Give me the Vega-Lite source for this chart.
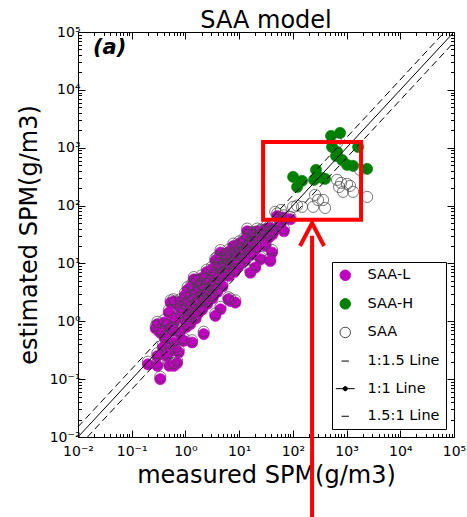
{
 "$schema": "https://vega.github.io/schema/vega-lite/v6.json",
 "width": 376, "height": 405,
 "autosize": "none",
 "padding": {"left": 78, "top": 32, "right": 13, "bottom": 80},
 "title": {"text": "SAA model", "fontSize": 24, "font": "DejaVu Sans", "fontWeight": "normal", "color": "black", "offset": -8, "anchor": "middle"},
 "datasets": {
  "pts": [
   {"x":0.34,"SAA-L":0.10,"SAA":0.11},{"x":0.20,"SAA-L":0.18,"SAA":0.2},{"x":0.30,"SAA-L":0.17,"SAA":0.19},{"x":0.70,"SAA-L":0.19,"SAA":0.21},{"x":0.61,"SAA-L":0.17,"SAA":0.19},
   {"x":0.53,"SAA-L":0.31,"SAA":0.34},{"x":0.75,"SAA-L":0.29,"SAA":0.32},{"x":0.42,"SAA-L":0.49,"SAA":0.54},{"x":0.61,"SAA-L":0.43,"SAA":0.47},{"x":0.93,"SAA-L":0.46,"SAA":0.51},
   {"x":1.33,"SAA-L":0.43,"SAA":0.47},{"x":0.37,"SAA-L":0.60,"SAA":0.66},{"x":0.56,"SAA-L":0.68,"SAA":0.75},{"x":0.46,"SAA-L":0.78,"SAA":0.86},{"x":0.30,"SAA-L":0.89,"SAA":0.98},
   {"x":0.49,"SAA-L":1.41,"SAA":1.55},{"x":2.19,"SAA-L":0.60,"SAA":0.66},{"x":0.53,"SAA-L":2.1,"SAA":2.3},{"x":3.6,"SAA-L":1.24,"SAA":1.36},{"x":4.5,"SAA-L":1.61,"SAA":1.77},
   {"x":6.9,"SAA-L":2.24,"SAA":2.46},{"x":8.5,"SAA-L":2.1,"SAA":2.3},{"x":1.65,"SAA-L":4.7,"SAA":5.2},{"x":1.43,"SAA-L":5.3,"SAA":5.8},{"x":3.9,"SAA-L":11.8,"SAA":13},
   {"x":5.6,"SAA-L":13.4,"SAA":14.7},{"x":14.1,"SAA-L":36,"SAA":40},{"x":21.6,"SAA-L":36,"SAA":40},{"x":35.6,"SAA-L":28,"SAA":31},{"x":41,"SAA-L":15.4,"SAA":17},
   {"x":38,"SAA-L":11,"SAA":12.1},{"x":25,"SAA-L":11.8,"SAA":13},{"x":31,"SAA-L":20,"SAA":22},{"x":4.5,"SAA-L":15.4,"SAA":17},{"x":3.6,"SAA-L":11,"SAA":12.1},
   {"x":6.4,"SAA-L":6.1,"SAA":6.7},{"x":16.2,"SAA-L":6.9,"SAA":7.6},{"x":20,"SAA-L":8.5,"SAA":9.4},{"x":41,"SAA-L":34,"SAA":37},{"x":51,"SAA-L":41,"SAA":45},
   {"x":51,"SAA-L":66,"SAA":73},{"x":68,"SAA-L":62,"SAA":68},{"x":90,"SAA-L":58,"SAA":64},{"x":59,"SAA-L":47,"SAA":52},{"x":38,"SAA-L":41,"SAA":45},
   {"x":25,"SAA-L":34,"SAA":37},{"x":19,"SAA-L":32,"SAA":35},{"x":42,"SAA-L":32,"SAA":35},{"x":68,"SAA-L":36,"SAA":40},{"x":0.6,"SAA-L":2.2,"SAA":2.4},
   {"x":6.3,"SAA-L":2.4,"SAA":2.6},{"x":0.30,"SAA-L":0.25,"SAA":0.28},{"x":0.45,"SAA-L":0.25,"SAA":0.28},{"x":0.5,"SAA-L":0.17,"SAA":0.19},{"x":0.65,"SAA-L":0.33,"SAA":0.36},
   {"x":0.38,"SAA-L":0.35,"SAA":0.39},{"x":0.28,"SAA-L":0.75,"SAA":0.83},{"x":0.33,"SAA-L":0.65,"SAA":0.72},{"x":0.4,"SAA-L":0.95,"SAA":1.05},
   {"x":0.63,"SAA-L":1.0,"SAA":1.1},{"x":0.65,"SAA-L":2.0,"SAA":2.2},{"x":0.62,"SAA-L":0.7,"SAA":0.77},
   {"x":0.79,"SAA-L":1.26,"SAA":1.39},{"x":0.8,"SAA-L":2.2,"SAA":2.4},{"x":0.78,"SAA-L":0.63,"SAA":0.69},{"x":0.82,"SAA-L":1.6,"SAA":1.76},
   {"x":1.0,"SAA-L":1.0,"SAA":1.1},{"x":1.02,"SAA-L":1.8,"SAA":2.0},{"x":0.98,"SAA-L":2.8,"SAA":3.1},{"x":1.05,"SAA-L":0.8,"SAA":0.88},{"x":0.97,"SAA-L":1.4,"SAA":1.54},
   {"x":1.12,"SAA-L":2.0,"SAA":2.2},{"x":1.1,"SAA-L":3.5,"SAA":3.9},{"x":1.15,"SAA-L":1.12,"SAA":1.23},
   {"x":1.26,"SAA-L":1.6,"SAA":1.76},{"x":1.28,"SAA-L":2.5,"SAA":2.75},{"x":1.24,"SAA-L":0.9,"SAA":0.99},{"x":1.3,"SAA-L":4.0,"SAA":4.4},
   {"x":1.41,"SAA-L":1.26,"SAA":1.39},{"x":1.45,"SAA-L":2.2,"SAA":2.4},{"x":1.4,"SAA-L":3.2,"SAA":3.5},
   {"x":1.58,"SAA-L":1.8,"SAA":2.0},{"x":1.6,"SAA-L":2.8,"SAA":3.1},{"x":1.55,"SAA-L":1.12,"SAA":1.23},{"x":1.62,"SAA-L":4.5,"SAA":5.0},
   {"x":1.78,"SAA-L":2.0,"SAA":2.2},{"x":1.8,"SAA-L":3.5,"SAA":3.9},{"x":1.75,"SAA-L":1.4,"SAA":1.54},
   {"x":2.0,"SAA-L":2.5,"SAA":2.75},{"x":2.05,"SAA-L":1.6,"SAA":1.76},{"x":1.95,"SAA-L":4.0,"SAA":4.4},{"x":2.0,"SAA-L":5.6,"SAA":6.2},
   {"x":2.24,"SAA-L":2.2,"SAA":2.4},{"x":2.2,"SAA-L":3.2,"SAA":3.5},{"x":2.3,"SAA-L":5.0,"SAA":5.5},
   {"x":2.5,"SAA-L":2.8,"SAA":3.1},{"x":2.55,"SAA-L":2.0,"SAA":2.2},{"x":2.45,"SAA-L":4.0,"SAA":4.4},{"x":2.5,"SAA-L":7.1,"SAA":7.8},
   {"x":2.8,"SAA-L":3.2,"SAA":3.5},{"x":2.85,"SAA-L":4.5,"SAA":5.0},{"x":2.75,"SAA-L":2.5,"SAA":2.75},
   {"x":3.16,"SAA-L":3.5,"SAA":3.9},{"x":3.2,"SAA-L":5.6,"SAA":6.2},{"x":3.1,"SAA-L":7.9,"SAA":8.7},{"x":3.2,"SAA-L":2.5,"SAA":2.75},
   {"x":3.55,"SAA-L":4.0,"SAA":4.4},{"x":3.5,"SAA-L":6.3,"SAA":6.9},
   {"x":4.0,"SAA-L":5.0,"SAA":5.5},{"x":4.1,"SAA-L":8.9,"SAA":9.8},{"x":3.9,"SAA-L":3.2,"SAA":3.5},
   {"x":4.5,"SAA-L":5.6,"SAA":6.2},{"x":4.4,"SAA-L":7.9,"SAA":8.7},{"x":4.6,"SAA-L":11.2,"SAA":12.3},
   {"x":5.0,"SAA-L":6.3,"SAA":6.9},{"x":5.1,"SAA-L":10,"SAA":11},{"x":4.9,"SAA-L":4.0,"SAA":4.4},
   {"x":5.6,"SAA-L":7.9,"SAA":8.7},{"x":5.7,"SAA-L":12.6,"SAA":13.9},{"x":5.5,"SAA-L":8.9,"SAA":9.8},
   {"x":6.3,"SAA-L":7.1,"SAA":7.8},{"x":6.2,"SAA-L":11.2,"SAA":12.3},{"x":6.4,"SAA-L":15.8,"SAA":17.4},
   {"x":7.1,"SAA-L":8.9,"SAA":9.8},{"x":7.0,"SAA-L":12.6,"SAA":13.9},
   {"x":7.9,"SAA-L":10,"SAA":11},{"x":8.0,"SAA-L":14,"SAA":15.4},{"x":7.8,"SAA-L":20,"SAA":22},{"x":8.1,"SAA-L":7.1,"SAA":7.8},
   {"x":8.9,"SAA-L":11.2,"SAA":12.3},{"x":9.0,"SAA-L":17.8,"SAA":19.6},
   {"x":10,"SAA-L":12.6,"SAA":13.9},{"x":10.2,"SAA-L":15.8,"SAA":17.4},{"x":9.8,"SAA-L":8.9,"SAA":9.8},{"x":10,"SAA-L":22,"SAA":24},
   {"x":11.2,"SAA-L":14,"SAA":15.4},{"x":11.4,"SAA-L":20,"SAA":22},
   {"x":12.6,"SAA-L":15.8,"SAA":17.4},{"x":12.4,"SAA-L":25,"SAA":27.5},{"x":12.8,"SAA-L":11.2,"SAA":12.3},
   {"x":14.1,"SAA-L":17.8,"SAA":19.6},{"x":14.3,"SAA-L":28,"SAA":31},
   {"x":15.8,"SAA-L":20,"SAA":22},{"x":16,"SAA-L":14,"SAA":15.4},{"x":15.6,"SAA-L":32,"SAA":35},
   {"x":17.8,"SAA-L":22,"SAA":24},{"x":18,"SAA-L":28,"SAA":31},
   {"x":20,"SAA-L":25,"SAA":27.5},{"x":20.5,"SAA-L":17.8,"SAA":19.6},
   {"x":25,"SAA-L":28,"SAA":31},{"x":25.5,"SAA-L":35,"SAA":38.5},
   {"x":31.6,"SAA-L":32,"SAA":35},{"x":32,"SAA-L":40,"SAA":44},
   {"x":101,"SAA-H":313},{"x":148,"SAA-H":267},{"x":120,"SAA-H":210},{"x":270,"SAA-H":414},{"x":248,"SAA-H":278},{"x":398,"SAA-H":289},
   {"x":350,"SAA-H":301},{"x":514,"SAA-H":1600},{"x":757,"SAA-H":1800},{"x":537,"SAA-H":1030},{"x":637,"SAA-H":721},{"x":824,"SAA-H":615},
   {"x":1020,"SAA-H":505},{"x":1320,"SAA-H":485},{"x":2410,"SAA-H":431},{"x":1640,"SAA-H":1030},{"x":665,"SAA-H":850},
   {"x":101,"SAA":95},{"x":148,"SAA":95},{"x":259,"SAA":153},{"x":238,"SAA":95},{"x":398,"SAA":91},{"x":294,"SAA":125},{"x":365,"SAA":125},
   {"x":665,"SAA":1210},{"x":665,"SAA":278},{"x":791,"SAA":247},{"x":725,"SAA":210},{"x":1020,"SAA":237},{"x":861,"SAA":173},{"x":1320,"SAA":173},
   {"x":2410,"SAA":141},{"x":1780,"SAA":414},{"x":1160,"SAA":219},{"x":60,"SAA":84},{"x":47,"SAA":78},{"x":120,"SAA":100}
  ],
  "one": [{"x":0.01,"y":0.01},{"x":100000,"y":100000}],
  "up": [{"x":0.01,"y":0.015},{"x":66667,"y":100000}],
  "lo": [{"x":0.015,"y":0.01},{"x":100000,"y":66667}],
  "lab": [{"x":0.019,"y":52000,"t":"(a)"}],
  "box": [{"x":27.9,"x2":1860,"y":56.6,"y2":1260}],
  "shaft": [{"x":228,"y":30,"y2":0.0004}],
  "head": [{"x":136,"y":20},{"x":228,"y":50},{"x":381,"y":20}]
 },
 "layer": [
  {
   "data": {"name": "pts"},
   "transform": [{"fold": ["SAA-L","SAA-H","SAA"], "as": ["series","y"]}, {"filter": "datum.series === 'SAA-L' && isValid(datum.y)"}],
   "mark": {"type": "point", "filled": true, "size": 125, "opacity": 1, "strokeWidth": 0.6},
   "encoding": {
    "x": {"field": "x", "type": "quantitative", "scale": {"type": "log", "domain": [0.01, 100000], "nice": false},
     "axis": {"orient": "bottom", "values": [0.01,0.02,0.03,0.04,0.05,0.06,0.07,0.08,0.09,0.1,0.2,0.3,0.4,0.5,0.6,0.7,0.8,0.9,1,2,3,4,5,6,7,8,9,10,20,30,40,50,60,70,80,90,100,200,300,400,500,600,700,800,900,1000,2000,3000,4000,5000,6000,7000,8000,9000,10000,20000,30000,40000,50000,60000,70000,80000,90000,100000],
      "tickSize": {"condition": {"test": "abs(log(datum.value)/LN10 - round(log(datum.value)/LN10)) < 0.001", "value": -7}, "value": -3.5},
      "labelExpr": "abs(log(datum.value)/LN10 - round(log(datum.value)/LN10)) < 0.001 ? ['10⁻²','10⁻¹','10⁰','10¹','10²','10³','10⁴','10⁵'][round(log(datum.value)/LN10)+2] : ''",
      "labelPadding": 14, "title": "measured SPM(g/m3)", "titlePadding": 2}},
    "y": {"field": "y", "type": "quantitative", "scale": {"type": "log", "domain": [0.01, 100000], "nice": false},
     "axis": {"orient": "left", "values": [0.01,0.02,0.03,0.04,0.05,0.06,0.07,0.08,0.09,0.1,0.2,0.3,0.4,0.5,0.6,0.7,0.8,0.9,1,2,3,4,5,6,7,8,9,10,20,30,40,50,60,70,80,90,100,200,300,400,500,600,700,800,900,1000,2000,3000,4000,5000,6000,7000,8000,9000,10000,20000,30000,40000,50000,60000,70000,80000,90000,100000],
      "tickSize": {"condition": {"test": "abs(log(datum.value)/LN10 - round(log(datum.value)/LN10)) < 0.001", "value": -7}, "value": -3.5},
      "labelExpr": "abs(log(datum.value)/LN10 - round(log(datum.value)/LN10)) < 0.001 ? ['10⁻²','10⁻¹','10⁰','10¹','10²','10³','10⁴','10⁵'][round(log(datum.value)/LN10)+2] : ''",
      "labelPadding": 5, "title": "estimated SPM(g/m3)", "titlePadding": 8}},
    "fill": {"field": "series", "type": "nominal",
     "scale": {"domain": ["SAA-L","SAA-H","SAA","1:1.5 Line","1:1 Line","1.5:1 Line"], "range": ["#bf00bf","#008000","transparent","transparent","black","transparent"]},
     "legend": {"title": null, "orient": "bottom-right", "offset": 8}},
    "stroke": {"field": "series", "type": "nominal",
     "scale": {"domain": ["SAA-L","SAA-H","SAA","1:1.5 Line","1:1 Line","1.5:1 Line"], "range": ["#bf00bf","#008000","#444444","black","black","black"]},
     "legend": {"title": null, "orient": "bottom-right", "offset": 8}},
    "shape": {"field": "series", "type": "nominal",
     "scale": {"domain": ["SAA-L","SAA-H","SAA","1:1.5 Line","1:1 Line","1.5:1 Line"], "range": ["circle","circle","circle","M-0.7,0H0.7","M-1.8,0H1.8M-0.4,0A0.4,0.4,0,1,1,0.4,0A0.4,0.4,0,1,1,-0.4,0","M-0.7,0H0.7"]},
     "legend": {"title": null, "orient": "bottom-right", "offset": 8}}
   }
  },
  {
   "data": {"name": "pts"},
   "transform": [{"fold": ["SAA-L","SAA-H","SAA"], "as": ["series","y"]}, {"filter": "datum.series === 'SAA-H' && isValid(datum.y)"}],
   "mark": {"type": "point", "filled": true, "size": 125, "opacity": 1, "strokeWidth": 0.6},
   "encoding": {
    "x": {"field": "x", "type": "quantitative", "scale": {"type": "log", "domain": [0.01, 100000], "nice": false}, "axis": null},
    "y": {"field": "y", "type": "quantitative", "scale": {"type": "log", "domain": [0.01, 100000], "nice": false}, "axis": null},
    "fill": {"field": "series", "type": "nominal"},
    "stroke": {"field": "series", "type": "nominal"},
    "shape": {"field": "series", "type": "nominal"}
   }
  },
  {
   "data": {"name": "pts"},
   "transform": [{"fold": ["SAA-L","SAA-H","SAA"], "as": ["series","y"]}, {"filter": "datum.series === 'SAA' && isValid(datum.y)"}],
   "mark": {"type": "point", "filled": true, "size": 125, "opacity": 1, "strokeWidth": 0.7},
   "encoding": {
    "x": {"field": "x", "type": "quantitative", "scale": {"type": "log", "domain": [0.01, 100000], "nice": false},
     "axis": {"orient": "top", "labels": false, "title": null, "values": [0.01,0.02,0.03,0.04,0.05,0.06,0.07,0.08,0.09,0.1,0.2,0.3,0.4,0.5,0.6,0.7,0.8,0.9,1,2,3,4,5,6,7,8,9,10,20,30,40,50,60,70,80,90,100,200,300,400,500,600,700,800,900,1000,2000,3000,4000,5000,6000,7000,8000,9000,10000,20000,30000,40000,50000,60000,70000,80000,90000,100000],
      "tickSize": {"condition": {"test": "abs(log(datum.value)/LN10 - round(log(datum.value)/LN10)) < 0.001", "value": -7}, "value": -3.5}}},
    "y": {"field": "y", "type": "quantitative", "scale": {"type": "log", "domain": [0.01, 100000], "nice": false},
     "axis": {"orient": "right", "labels": false, "title": null, "values": [0.01,0.02,0.03,0.04,0.05,0.06,0.07,0.08,0.09,0.1,0.2,0.3,0.4,0.5,0.6,0.7,0.8,0.9,1,2,3,4,5,6,7,8,9,10,20,30,40,50,60,70,80,90,100,200,300,400,500,600,700,800,900,1000,2000,3000,4000,5000,6000,7000,8000,9000,10000,20000,30000,40000,50000,60000,70000,80000,90000,100000],
      "tickSize": {"condition": {"test": "abs(log(datum.value)/LN10 - round(log(datum.value)/LN10)) < 0.001", "value": -7}, "value": -3.5}}},
    "fill": {"field": "series", "type": "nominal"},
    "stroke": {"field": "series", "type": "nominal"},
    "shape": {"field": "series", "type": "nominal"}
   }
  },
  {
   "data": {"name": "one"},
   "mark": {"type": "line", "color": "black", "strokeWidth": 1},
   "encoding": {
    "x": {"field": "x", "type": "quantitative", "scale": {"type": "log", "domain": [0.01, 100000], "nice": false}, "axis": null},
    "y": {"field": "y", "type": "quantitative", "scale": {"type": "log", "domain": [0.01, 100000], "nice": false}, "axis": null}
   }
  },
  {
   "data": {"name": "up"},
   "mark": {"type": "line", "color": "black", "strokeWidth": 1, "strokeDash": [7, 4]},
   "encoding": {
    "x": {"field": "x", "type": "quantitative", "scale": {"type": "log", "domain": [0.01, 100000], "nice": false}, "axis": null},
    "y": {"field": "y", "type": "quantitative", "scale": {"type": "log", "domain": [0.01, 100000], "nice": false}, "axis": null}
   }
  },
  {
   "data": {"name": "lo"},
   "mark": {"type": "line", "color": "black", "strokeWidth": 1, "strokeDash": [7, 4]},
   "encoding": {
    "x": {"field": "x", "type": "quantitative", "scale": {"type": "log", "domain": [0.01, 100000], "nice": false}, "axis": null},
    "y": {"field": "y", "type": "quantitative", "scale": {"type": "log", "domain": [0.01, 100000], "nice": false}, "axis": null}
   }
  },
  {
   "data": {"name": "lab"},
   "mark": {"type": "text", "align": "left", "baseline": "middle", "fontSize": 21, "fontWeight": "bold", "fontStyle": "italic", "font": "DejaVu Sans", "color": "black"},
   "encoding": {
    "x": {"field": "x", "type": "quantitative", "scale": {"type": "log", "domain": [0.01, 100000], "nice": false}, "axis": null},
    "y": {"field": "y", "type": "quantitative", "scale": {"type": "log", "domain": [0.01, 100000], "nice": false}, "axis": null},
    "text": {"field": "t"}
   }
  },
  {
   "data": {"name": "box"},
   "mark": {"type": "rect", "fill": "transparent", "stroke": "#ff0000", "strokeWidth": 4},
   "encoding": {
    "x": {"field": "x", "type": "quantitative", "scale": {"type": "log", "domain": [0.01, 100000], "nice": false}, "axis": null},
    "x2": {"field": "x2"},
    "y": {"field": "y", "type": "quantitative", "scale": {"type": "log", "domain": [0.01, 100000], "nice": false}, "axis": null},
    "y2": {"field": "y2"}
   }
  },
  {
   "data": {"name": "shaft"},
   "mark": {"type": "rule", "color": "#ff0000", "strokeWidth": 4},
   "encoding": {
    "x": {"field": "x", "type": "quantitative", "scale": {"type": "log", "domain": [0.01, 100000], "nice": false}, "axis": null},
    "y": {"field": "y", "type": "quantitative", "scale": {"type": "log", "domain": [0.01, 100000], "nice": false}, "axis": null},
    "y2": {"field": "y2"}
   }
  },
  {
   "data": {"name": "head"},
   "mark": {"type": "line", "color": "#ff0000", "strokeWidth": 4, "strokeJoin": "miter"},
   "encoding": {
    "x": {"field": "x", "type": "quantitative", "scale": {"type": "log", "domain": [0.01, 100000], "nice": false}, "axis": null},
    "y": {"field": "y", "type": "quantitative", "scale": {"type": "log", "domain": [0.01, 100000], "nice": false}, "axis": null}
   }
  }
 ],
 "resolve": {"axis": {"x": "independent", "y": "independent"}},
 "config": {
  "font": "DejaVu Sans",
  "view": {"stroke": "black", "strokeWidth": 1},
  "axis": {"grid": false, "domain": false, "tickColor": "black", "tickWidth": 1, "labelColor": "black", "titleColor": "black",
   "labelFont": "DejaVu Sans", "titleFont": "DejaVu Sans", "titleFontWeight": "normal", "labelFontSize": 14, "titleFontSize": 24,
   "labelFlush": false, "labelOverlap": false},
  "legend": {"labelFont": "DejaVu Sans", "labelFontSize": 14.5, "labelColor": "black", "symbolSize": 110, "symbolStrokeWidth": 1,
   "strokeColor": "black", "fillColor": "white", "padding": 6, "rowPadding": 12.6, "labelOffset": 15, "symbolOpacity": 1}
 }
}
